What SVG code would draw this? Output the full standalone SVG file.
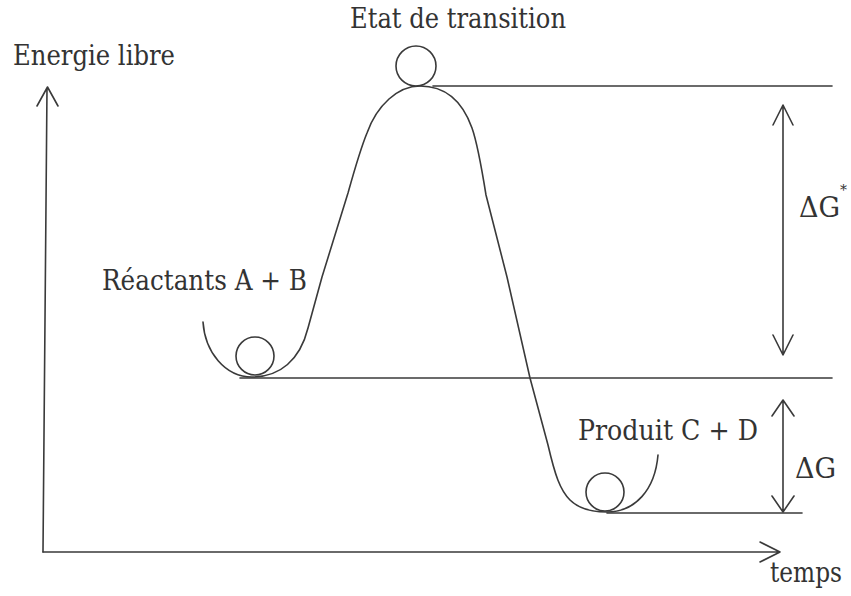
<svg xmlns="http://www.w3.org/2000/svg" width="851" height="596" viewBox="0 0 851 596">
<style>
.ln{fill:none;stroke:#3a3a3a;stroke-width:1.6;stroke-linecap:round;stroke-linejoin:round}
text{font-family:'DejaVu Serif','Liberation Serif',serif;font-size:27px;fill:#333}
</style>
<rect width="851" height="596" fill="#fff"/>
<g id="axes">
<path class="ln" d="M43,552 L47,88 M37,106 L47.5,87 L58,106"/>
<path class="ln" d="M43,552 L780,552 M760,542 L780,552 L760,562"/>
<text x="13" y="65" textLength="162" lengthAdjust="spacingAndGlyphs">Energie libre</text>
<text x="770" y="582" font-size="25" textLength="72" lengthAdjust="spacingAndGlyphs">temps</text>
</g>
<g id="levels">
<path class="ln" d="M433,86 L832,86"/>
<path class="ln" d="M240,378 L832,378"/>
<path class="ln" d="M607,513 L802,513"/>
</g>
<g id="curve">
<path class="ln" d="M203,322 C205,352 225,377 252,377 C280,377 300,360 308,328 L322,277 L348,193 C355,168 360,150 367,133 C377,105 398,86 420,86 C445,86 462,100 472,128 C478,145 482,170 486,195 L507,277 L530,378 L548,445 C555,475 560,490 570,500 C580,510 595,512 607,512 C635,512 655,490 658,455"/>
</g>
<g id="reactants">
<circle class="ln" cx="255" cy="356" r="19"/>
<text x="102" y="290" textLength="205" lengthAdjust="spacingAndGlyphs">Réactants A + B</text>
</g>
<g id="transition">
<circle class="ln" cx="416" cy="66" r="20"/>
<text x="350" y="28" textLength="216" lengthAdjust="spacingAndGlyphs">Etat de transition</text>
</g>
<g id="produit">
<circle class="ln" cx="605" cy="492" r="19"/>
<text x="578" y="440" textLength="180" lengthAdjust="spacingAndGlyphs">Produit C + D</text>
</g>
<g id="connectors">
<path class="ln" d="M783,105 L783,355 M773,125 L783,105 L793,125 M773,335 L783,355 L793,335"/>
<path class="ln" d="M783,400 L783,512 M772,416 L783,400 L794,416 M772,496 L783,512 L794,496"/>
</g>
<g id="labels">
<text x="799" y="217">ΔG<tspan font-size="14" dy="-22">*</tspan></text>
<text x="795" y="478">ΔG</text>
</g>
</svg>
